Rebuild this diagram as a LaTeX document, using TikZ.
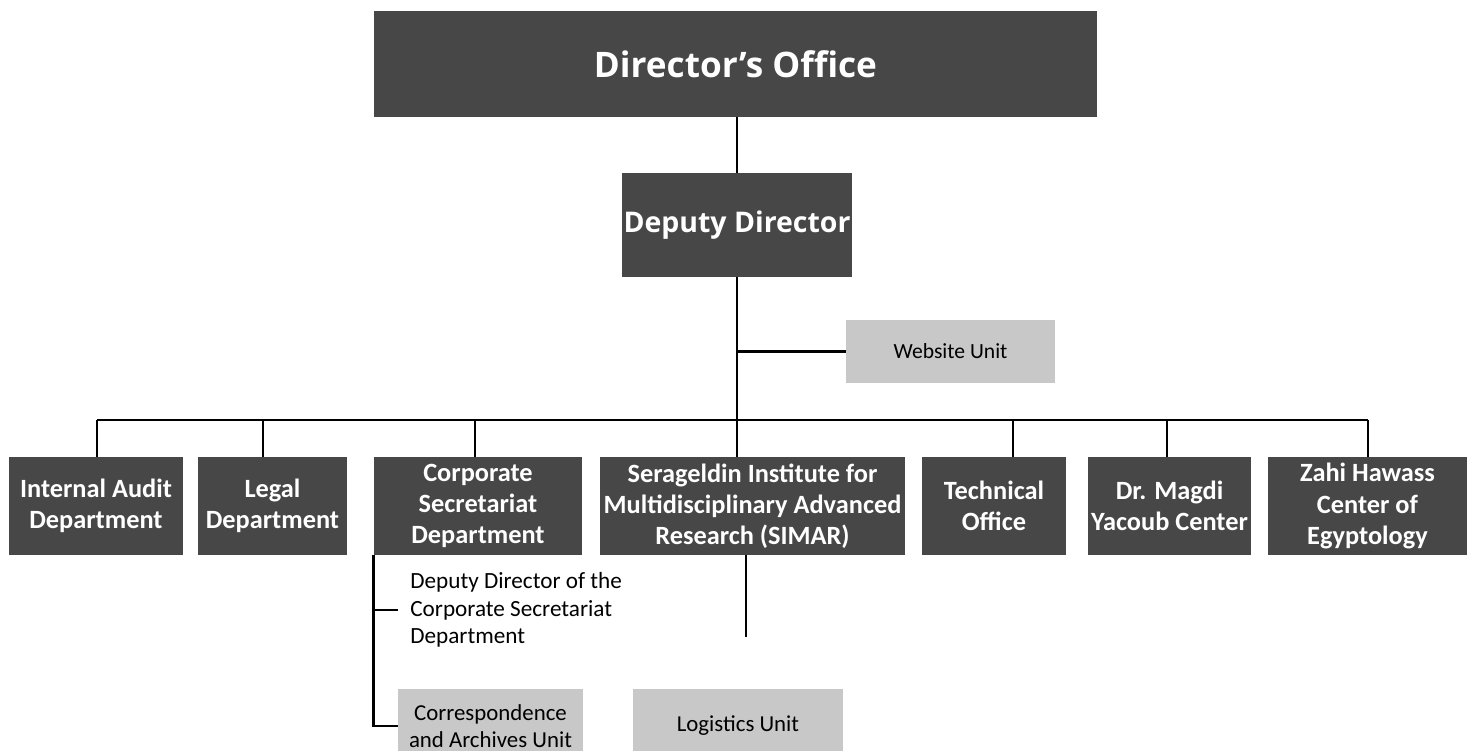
\documentclass[tikz,border=0pt]{standalone}
\usepackage{fontspec}
\setmainfont{Carlito}
\newfontfamily\headfont{Open Sans}
\usetikzlibrary{positioning,calc}
\definecolor{BoxGray}{RGB}{71,71,71}
\definecolor{UnitGray}{RGB}{200,200,200}
\tikzset{
  box/.style={fill=BoxGray,text=white,align=center,inner sep=0pt,font=\bfseries\fontsize{15}{17.8}\selectfont},
  head/.style={box,font=\headfont\bfseries\fontsize{20}{24}\selectfont},
  unit/.style={fill=UnitGray,text=black,align=center,inner sep=0pt,font=\fontsize{13}{15.4}\selectfont},
  note/.style={text=black,align=left,inner sep=0pt,font=\fontsize{13.2}{15.6}\selectfont},
  wire/.style={draw=black,line width=1.4pt}
}
\begin{document}
\begin{tikzpicture}[x=0.02cm,y=-0.02cm]
  \useasboundingbox[fill=white] (0,0) rectangle (1472,751);
  % top of the chart
  \node[head,minimum width=14.48cm,minimum height=2.12cm] (dir) at (735.5,64) {Director’s Office};
  \node[head,font=\headfont\bfseries\fontsize{16.2}{19}\selectfont,minimum width=4.6cm,minimum height=2.08cm] (dep) at (737,225) {Deputy Director};
  \node[unit,font=\fontsize{12.3}{14}\selectfont,minimum width=4.18cm,minimum height=1.26cm] (web) at (950.5,351.5) {Website Unit};
  % departments
  \node[box,minimum width=3.48cm,minimum height=1.96cm] (audit) at (96,506) {Internal Audit\\Department};
  \node[box,minimum width=2.98cm,minimum height=1.96cm] (legal) at (272.5,506) {Legal\\Department};
  \node[box,minimum width=4.16cm,minimum height=1.96cm] (corp) at (478,506) {Corporate\\Secretariat\\Department};
  \node[box,minimum width=6.12cm,minimum height=1.96cm] (simar) at (752.5,506) {Serageldin Institute for\\Multidisciplinary Advanced\\Research (SIMAR)};
  \node[box,minimum width=2.88cm,minimum height=1.96cm] (tech) at (994,506) {Technical\\Office};
  \node[box,minimum width=3.26cm,minimum height=1.96cm] (magdi) at (1169.5,506) {Dr. Magdi\\Yacoub Center};
  \node[box,minimum width=3.98cm,minimum height=1.96cm] (zahi) at (1367.5,506) {Zahi Hawass\\Center of\\Egyptology};
  % lower units
  \node[note,anchor=west] (cdep) at (410,610) {Deputy Director of the\\Corporate Secretariat\\Department};
  \node[unit,minimum width=3.7cm,minimum height=1.48cm] (corr) at (490.5,726) {Correspondence\\and Archives Unit};
  \node[unit,minimum width=4.2cm,minimum height=1.48cm] (logi) at (738,726) {Logistics Unit};
  % bus and drops
  \coordinate (bus) at (737,420);
  \coordinate (dAudit) at (97,420);
  \coordinate (dLegal) at (263,420);
  \coordinate (dCorp) at (475,420);
  \coordinate (dTech) at (1013,420);
  \coordinate (dMagdi) at (1167,420);
  \coordinate (dZahi) at (1368,420);
  \coordinate (simEnd) at (746,637);
    \draw[wire] (dep.north) -- (dep.north |- dir.south);
    \draw[wire] (dep.south) -- (bus) -- (bus |- simar.north);
    \draw[wire] (web.west) -- (web.west -| dep.south);
    \draw[wire] (dAudit) -- (dZahi);
    \foreach \d/\n in {dAudit/audit,dLegal/legal,dCorp/corp,dTech/tech,dMagdi/magdi,dZahi/zahi}
      \draw[wire] (\d) -- (\d |- \n.north);
    \draw[wire] (corp.south west) |- (corr.west);
    \draw[wire] (cdep.west -| corp.south west) -- ($(cdep.west)+(-12,0)$);
    \draw[wire] (simEnd |- simar.south) -- (simEnd);
\end{tikzpicture}
\end{document}
